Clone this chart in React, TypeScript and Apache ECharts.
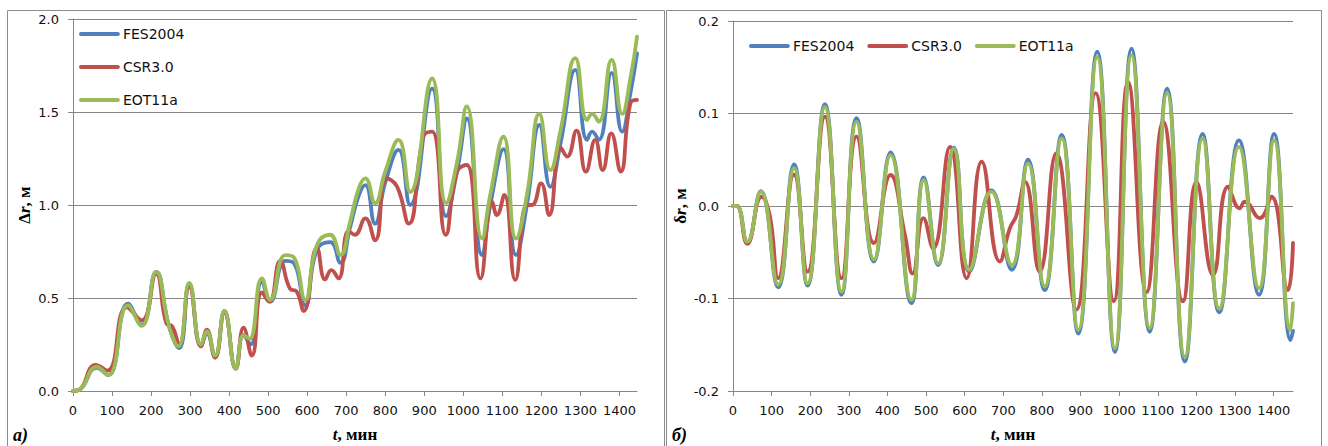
import React, { useEffect, useRef } from "react";
import * as echarts from "echarts";

const X_TICKS = [0, 100, 200, 300, 400, 500, 600, 700, 800, 900, 1000, 1100, 1200, 1300, 1400];
const Y_TICKS_A = [0, 0.5, 1.0, 1.5, 2.0];
const Y_TICKS_B = [-0.2, -0.1, 0, 0.1, 0.2];
const X_MAX_A = 1445;
const X_MAX_B = 1450;
const NAMES = ["FES2004", "CSR3.0", "EOT11a"];
const COLORS = ["#4F81BD", "#C0504D", "#9BBB59"];

// Panel а): Δr, м vs t, мин
const fesA: [number, number][] = [
  [0, 0], [15, 0.005], [61, 0.125], [90, 0.085], [141, 0.47], [176, 0.355], [213, 0.64], [247, 0.34],
  [272, 0.23], [298, 0.58], [328, 0.24], [343, 0.31], [364, 0.18], [388, 0.43], [417, 0.12], [437, 0.3],
  [455, 0.25], [484, 0.59], [505, 0.48], [544, 0.7], [565, 0.69], [595, 0.46], [625, 0.76], [659, 0.8],
  [685, 0.69], [710, 0.88], [732, 1.05], [749, 1.107], [774, 0.9], [800, 1.12], [834, 1.296], [864, 1.0],
  [920, 1.626], [956, 0.94], [984, 1.18], [1009, 1.465], [1048, 0.73], [1069, 1.0], [1103, 1.3],
  [1135, 0.73], [1163, 1.0], [1195, 1.43], [1223, 1.098], [1249, 1.33], [1287, 1.726], [1317, 1.35],
  [1330, 1.395], [1347, 1.35], [1380, 1.71], [1407, 1.395], [1428, 1.6], [1445, 1.815],
];
const csrA: [number, number][] = [
  [0, 0], [15, 0.005], [58, 0.14], [88, 0.11], [138, 0.45], [176, 0.38], [213, 0.63], [240, 0.36],
  [253, 0.35], [272, 0.25], [298, 0.56], [328, 0.24], [343, 0.33], [364, 0.18], [388, 0.42], [417, 0.12],
  [437, 0.34], [458, 0.19], [484, 0.53], [503, 0.48], [531, 0.7], [556, 0.55], [573, 0.535], [591, 0.43],
  [625, 0.77], [646, 0.6], [662, 0.65], [680, 0.605], [706, 0.86], [722, 0.84], [749, 0.928], [774, 0.81],
  [804, 1.143], [830, 1.1], [860, 0.9], [898, 1.37], [920, 1.395], [955, 0.84], [984, 1.18], [1009, 1.215],
  [1044, 0.605], [1074, 1.018], [1086, 0.946], [1105, 1.054], [1133, 0.597], [1163, 1.0], [1176, 1.0],
  [1199, 1.116], [1220, 0.946], [1249, 1.31], [1266, 1.26], [1290, 1.4], [1314, 1.18], [1338, 1.35],
  [1357, 1.188], [1379, 1.385], [1403, 1.18], [1428, 1.547], [1445, 1.565],
];
const eotA: [number, number][] = [
  [0, 0], [15, 0.005], [61, 0.13], [90, 0.085], [141, 0.46], [176, 0.35], [213, 0.64], [247, 0.34],
  [270, 0.24], [298, 0.58], [328, 0.25], [343, 0.32], [364, 0.19], [388, 0.43], [417, 0.12], [437, 0.3],
  [452, 0.28], [484, 0.605], [505, 0.49], [544, 0.73], [565, 0.72], [595, 0.49], [625, 0.785], [659, 0.84],
  [685, 0.73], [710, 0.91], [732, 1.09], [749, 1.143], [774, 1.01], [800, 1.18], [834, 1.35], [864, 1.07],
  [920, 1.68], [956, 1.01], [984, 1.23], [1009, 1.53], [1048, 0.82], [1069, 1.054], [1103, 1.367],
  [1135, 0.82], [1163, 1.054], [1195, 1.49], [1223, 1.188], [1249, 1.4], [1287, 1.79], [1317, 1.457],
  [1330, 1.49], [1347, 1.448], [1380, 1.78], [1407, 1.49], [1428, 1.68], [1445, 1.905],
];

// Panel б): δr, м vs t, мин
const fesB: [number, number][] = [
  [0, 0], [10, 0], [37, -0.039], [72, 0.016], [117, -0.088], [158, 0.045], [193, -0.086], [238, 0.11],
  [281, -0.096], [320, 0.095], [365, -0.06], [408, 0.058], [462, -0.105], [494, 0.031], [531, -0.064],
  [572, 0.063], [612, -0.071], [669, 0.017], [722, -0.069], [764, 0.05], [807, -0.091], [851, 0.077],
  [894, -0.138], [943, 0.167], [989, -0.158], [1032, 0.17], [1079, -0.136], [1124, 0.127], [1170, -0.168],
  [1216, 0.078], [1259, -0.115], [1310, 0.071], [1362, -0.096], [1401, 0.078], [1444, -0.145], [1450, -0.135],
];
const csrB: [number, number][] = [
  [0, 0], [10, 0], [37, -0.041], [74, 0.01], [95, -0.01], [117, -0.078], [158, 0.034], [193, -0.071],
  [238, 0.0966], [281, -0.078], [320, 0.075], [365, -0.04], [408, 0.0335], [445, -0.031], [465, -0.073],
  [493, -0.013], [518, -0.046], [562, 0.064], [605, -0.078], [644, 0.048], [691, -0.06], [717, -0.024],
  [734, -0.01], [756, 0.026], [794, -0.071], [837, 0.057], [889, -0.112], [939, 0.122], [986, -0.103],
  [1023, 0.134], [1071, -0.093], [1114, 0.091], [1165, -0.103], [1200, 0.026], [1243, -0.0746],
  [1282, 0.021], [1312, -0.0025], [1325, 0.0046], [1364, -0.013], [1394, 0.01], [1437, -0.091], [1450, -0.04],
];
const eotB: [number, number][] = [
  [0, 0], [10, 0], [37, -0.0386], [72, 0.0155], [117, -0.085], [158, 0.041], [193, -0.0836], [238, 0.107],
  [281, -0.0926], [320, 0.091], [365, -0.058], [408, 0.055], [462, -0.1016], [494, 0.028], [531, -0.062],
  [572, 0.062], [612, -0.069], [669, 0.0155], [722, -0.064], [764, 0.046], [807, -0.087], [851, 0.073],
  [894, -0.134], [943, 0.161], [989, -0.154], [1032, 0.163], [1079, -0.132], [1124, 0.122], [1170, -0.163],
  [1216, 0.073], [1259, -0.111], [1310, 0.064], [1362, -0.089], [1401, 0.071], [1443, -0.134], [1450, -0.105],
];

const GRID_COLOR = "#868686";
const LABEL_FONT = "DejaVu Sans";
const SERIF = "Liberation Serif";

const fmt = (v: number) => (Math.abs(v) < 1e-9 ? "0.0" : v.toFixed(1));

const titleRich = {
  i: { fontFamily: SERIF, fontStyle: "italic", fontWeight: "bold", fontSize: 17, color: "#000" },
  b: { fontFamily: SERIF, fontWeight: "bold", fontSize: 17, color: "#000" },
};

function xAxisDef(gridIndex: number, max: number) {
  return {
    type: "value",
    gridIndex,
    min: 0,
    max,
    axisLine: { show: true, onZero: false, lineStyle: { color: GRID_COLOR, width: 1 } },
    axisTick: { show: true, length: 5, customValues: X_TICKS, lineStyle: { color: GRID_COLOR } },
    axisLabel: {
      customValues: X_TICKS,
      formatter: (v: number) => String(Math.round(v)),
      fontFamily: LABEL_FONT,
      fontSize: 13,
      color: "#111",
      margin: 13,
    },
    splitLine: { show: false },
    name: "{i|t}{b|, мин}",
    nameLocation: "middle",
    nameGap: 35,
    nameTextStyle: { rich: titleRich },
  };
}

function yAxisDef(gridIndex: number, ticks: number[], name: string, gap: number) {
  return {
    type: "value",
    gridIndex,
    min: ticks[0],
    max: ticks[ticks.length - 1],
    interval: ticks[1] - ticks[0],
    axisLine: { show: true, onZero: false, lineStyle: { color: GRID_COLOR, width: 1 } },
    axisTick: { show: true, length: 5, lineStyle: { color: GRID_COLOR } },
    axisLabel: { formatter: fmt, fontFamily: LABEL_FONT, fontSize: 13, color: "#111", margin: 14 },
    splitLine: { show: true, lineStyle: { color: GRID_COLOR, width: 1 } },
    name,
    nameLocation: "middle",
    nameRotate: 90,
    nameGap: gap,
    nameTextStyle: { rich: titleRich },
  };
}

function lineSeries(name: string, color: string, data: [number, number][], axis: number) {
  return {
    type: "line",
    name,
    xAxisIndex: axis,
    yAxisIndex: axis,
    data,
    smooth: 0.5,
    symbol: "none",
    color,
    lineStyle: { color, width: 3.8, cap: "round", join: "round" },
    emphasis: { disabled: true },
  };
}

export default function App() {
  const ref = useRef<HTMLDivElement>(null);
  useEffect(() => {
    if (!ref.current) return;
    const chart = echarts.init(ref.current, undefined, { renderer: "svg" });
    const legendText = { fontFamily: LABEL_FONT, fontSize: 14, color: "#111" };
    const legendCommon = {
      itemWidth: 37,
      itemHeight: 14,
      padding: 0,
      data: NAMES,
      textStyle: legendText,
      selectedMode: false,
      itemStyle: { opacity: 0 },
      lineStyle: { width: 3.8, cap: "round" },
    };
    chart.setOption({
      animation: false,
      backgroundColor: "#fff",
      grid: [
        { left: 73, top: 19, width: 564, height: 372, outerBoundsMode: "none", containLabel: false },
        { left: 733, top: 21, width: 560, height: 370, outerBoundsMode: "none", containLabel: false },
      ],
      xAxis: [xAxisDef(0, X_MAX_A), xAxisDef(1, X_MAX_B)],
      yAxis: [
        yAxisDef(0, Y_TICKS_A, "{b|Δ}{i|r}{b|, м}", 40),
        yAxisDef(1, Y_TICKS_B, "{b|δ}{i|r}{b|, м}", 44),
      ],
      legend: [
        { ...legendCommon, orient: "vertical", left: 79, top: 27, itemGap: 19 },
        { ...legendCommon, orient: "horizontal", left: 749, top: 39, itemGap: 13 },
      ],
      graphic: [
        { type: "rect", shape: { x: 7.5, y: 10.5, width: 657, height: 470 }, style: { fill: "none", stroke: "#8c8c8c", lineWidth: 1 }, silent: true },
        { type: "rect", shape: { x: 666.5, y: 10.5, width: 655, height: 470 }, style: { fill: "none", stroke: "#8c8c8c", lineWidth: 1 }, silent: true },
        { type: "text", x: 13, y: 435, style: { text: "а)", font: `italic bold 18px "${SERIF}"`, fill: "#000", verticalAlign: "middle" } },
        { type: "text", x: 672, y: 435, style: { text: "б)", font: `italic bold 18px "${SERIF}"`, fill: "#000", verticalAlign: "middle" } },
      ],
      series: [
        lineSeries(NAMES[0], COLORS[0], fesA, 0),
        lineSeries(NAMES[1], COLORS[1], csrA, 0),
        lineSeries(NAMES[2], COLORS[2], eotA, 0),
        lineSeries(NAMES[0], COLORS[0], fesB, 1),
        lineSeries(NAMES[1], COLORS[1], csrB, 1),
        lineSeries(NAMES[2], COLORS[2], eotB, 1),
      ],
    });
    return () => chart.dispose();
  }, []);
  return (
    <div
      ref={ref}
      style={{ position: "absolute", left: 0, top: 0, width: 1328, height: 446, background: "#fff" }}
    />
  );
}
